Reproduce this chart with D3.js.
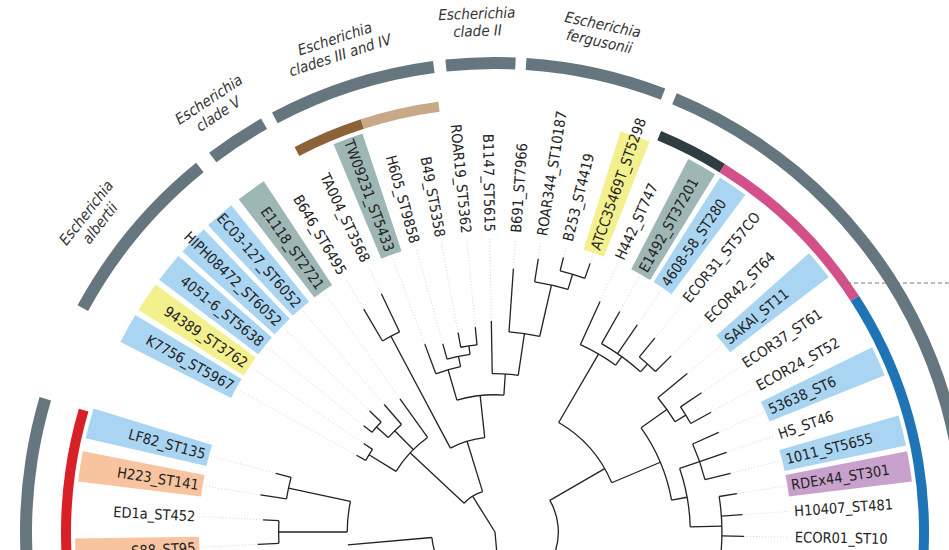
<!DOCTYPE html>
<html><head><meta charset="utf-8">
<script src="https://cdn.jsdelivr.net/npm/d3@7"></script>
<style>body{margin:0;background:#fff}</style></head>
<body><svg id="c" width="949" height="550"></svg>
<script>
// leaves: name, angle (deg clockwise from up), highlight
const leafNames = ["S88_ST95","ED1a_ST452","H223_ST141","LF82_ST135","K7756_ST5967","94389_ST3762","4051-6_ST5638","HIPH08472_ST6052","EC03-127_ST6052","E1118_ST2721","B646_ST6495","TA004_ST3568","TW09231_ST5433","H605_ST9858","B49_ST5358","ROAR19_ST5362","B1147_ST5615","B691_ST7966","ROAR344_ST10187","B253_ST4419","ATCC35469T_ST5298","H442_ST747","E1492_ST37201","4608-58_ST280","ECOR31_ST57CO","ECOR42_ST64","SAKAI_ST11","ECOR37_ST61","ECOR24_ST52","53638_ST6","HS_ST46","1011_ST5655","RDEx44_ST301","H10407_ST481","ECOR01_ST10","CIP61-11_ST10"];
const leafAngles = [-93,-87,-81,-75,-61,-56,-51,-46,-41,-35.5,-30.5,-25.5,-20.5,-15.5,-10.5,-5.5,-1,4,9,14,19.5,24.5,29.5,34.5,39.5,45,50.5,56,61,66,71,76,81,86,91,96];
const leafDepth = [225,220,225,215,150,150,160,165,160,155,245,250,190,185,192,195,200,250,262,268,270,240,240,238,238,236,236,236,234,232,232,230,232,235,236,238];
const leafHi = ["s","","s","b","b","y","b","b","b","g","","","g","","","","","","","","y","","g","b","","","b","","","b","","b","p","","",""];
const hiColors = {b:"#a9d5f2",y:"#f3f08e",g:"#9eb6b4",s:"#f7c49f",p:"#c8a2cc"};
// internal nodes: depth, children (leaf indices or node ids)
const nodes = {
  root:[0,["coli","non"]],
  coli:[60,["coliR","coliL"]],
  coliL:[140,["l1","l2"]], l1:[205,[0,1]], l2:[200,[2,3]],
  coliR:[120,["r1","r2"]],
  r1:[195,[21,"r1a"]], r1a:[205,[22,23,"r1b"]], r1b:[215,[24,25]],
  r2:[170,["r3","r4"]], r3:[200,[26,"r3a"]], r3a:[212,[27,28]],
  r4:[185,["r5","r6"]], r5:[205,[29,30,31]], r6:[215,[32,33,34,35]],
  non:[40,["alb","cry"]],
  alb:[110,["a1","a2",9]], a1:[140,[4,5]], a2:[135,["a3",8]], a3:[150,[6,7]],
  cry:[90,["c5","rest"]], c5:[210,[10,11]],
  rest:[130,["c34","c2"]], c34:[160,[12,"c34a"]], c34a:[170,[13,"c34b"]], c34b:[178,[14,15]],
  c2:[150,[16,"fg"]], fg:[190,[17,"fg1"]], fg1:[240,[18,"fg2"]], fg2:[255,[19,20]]
};
const cladeNames = [["Escherichia","albertii"],["Escherichia","clade V"],["Escherichia","clades III and IV"],["Escherichia","clade II"],["Escherichia","fergusonii"],null,null];
const cladeArcs = [[-61.5,-39],[-37,-29.5],[-28,-7.5],[-6,2.5],[3.8,21],[22.5,115],[-135,-73.5]];
const cladeLabelAngle = [-52,-33.5,-18,-2,12];
const colorArcs = [[-27.5,-18,"#8c6239"],[-18,-7.5,"#c8a888"],[22.5,32,"#2f3c42"],[32,57,"#d4508a"],[57,120,"#1e74b4"],[-140,-73.5,"#d92027"]];

const svg = d3.select("#c");
const cx = 495, cy = 532;
const g = svg.append("g").attr("transform",`translate(${cx},${cy})`);
const rScale = d3.scaleLinear().domain([0,270]).range([0,285]);
const rad = a => a*Math.PI/180;
const pt = (a,r) => [r*Math.sin(rad(a)), -r*Math.cos(rad(a))];
const arcGen = d3.arc();

// compute node angles
const ang = {};
function nodeAngle(id){
  if (typeof id === "number") return leafAngles[id];
  if (ang[id]!==undefined) return ang[id];
  const ch = nodes[id][1].map(nodeAngle);
  ang[id] = (d3.min(ch)+d3.max(ch))/2; return ang[id];
}
const depthOf = id => typeof id==="number" ? leafDepth[id] : nodes[id][0];
nodeAngle("root");
// custom: coli group wraps across bottom
ang.coli = 175; ang.coliL = 265; ang.coliR = 60;

// outer grey ring
cladeArcs.forEach(a=>{
  g.append("path").attr("d",arcGen({innerRadius:463,outerRadius:475,startAngle:rad(a[0]),endAngle:rad(a[1])})).attr("fill","#66767e");
});
colorArcs.forEach(a=>{
  g.append("path").attr("d",arcGen({innerRadius:424,outerRadius:434,startAngle:rad(a[0]),endAngle:rad(a[1])})).attr("fill",a[2]);
});
// clade labels
cladeLabelAngle.forEach((a,i)=>{
  const [x,y] = pt(a,500);
  const t = g.append("text").attr("transform",`translate(${x},${y}) rotate(${a})`)
    .attr("text-anchor","middle").attr("font-family","Liberation Sans Narrow, DejaVu Sans Condensed, sans-serif")
    .attr("font-size",15).attr("fill","#333").attr("font-style","italic");
  t.append("tspan").attr("x",0).attr("dy","-0.9em").text(cladeNames[i][0]);
  t.append("tspan").attr("x",0).attr("dy","1.15em").text(cladeNames[i][1]);
});
// highlights & labels
const labR = 300;
leafNames.forEach((n,i)=>{
  const a = leafAngles[i];
  if (leafHi[i]) {
    g.append("path").attr("d",arcGen({innerRadius:labR-4,outerRadius:420,startAngle:rad(a-2.1),endAngle:rad(a+2.1)})).attr("fill",hiColors[leafHi[i]]);
  }
  const left = a<0;
  g.append("text").attr("transform",`rotate(${a-90}) translate(${labR},0)${left?" rotate(180)":""}`)
    .attr("text-anchor",left?"end":"start").attr("dy","0.35em")
    .attr("font-family","Liberation Sans Narrow, DejaVu Sans Condensed, sans-serif").attr("font-size",14.5).attr("fill","#222").text(n);
  // dotted connector
  const [x1,y1]=pt(a,rScale(leafDepth[i])), [x2,y2]=pt(a,labR-6);
  g.append("line").attr("x1",x1).attr("y1",y1).attr("x2",x2).attr("y2",y2).attr("stroke","#ccc").attr("stroke-dasharray","1,2").attr("stroke-width",0.8);
});
// tree links
function drawNode(id){
  const pr = rScale(depthOf(id));
  const ch = nodes[id][1];
  const angs = ch.map(nodeAngle);
  let a0=d3.min(angs), a1=d3.max(angs);
  if (id==="coli"){a0=60;a1=265;}
  g.append("path").attr("d",d3.arc()({innerRadius:pr,outerRadius:pr,startAngle:rad(a0),endAngle:rad(a1)})).attr("fill","none").attr("stroke","#222").attr("stroke-width",1.3);
  ch.forEach(c=>{
    const ca = nodeAngle(c), cr = rScale(depthOf(c));
    const [x1,y1]=pt(ca,pr),[x2,y2]=pt(ca,cr);
    g.append("line").attr("x1",x1).attr("y1",y1).attr("x2",x2).attr("y2",y2).attr("stroke","#222").attr("stroke-width",1.3);
    if (typeof c!=="number") drawNode(c);
  });
}
drawNode("root");
// dashed guide
svg.append("line").attr("x1",840).attr("y1",283).attr("x2",949).attr("y2",283).attr("stroke","#777").attr("stroke-dasharray","4,3");
</script></body></html>
